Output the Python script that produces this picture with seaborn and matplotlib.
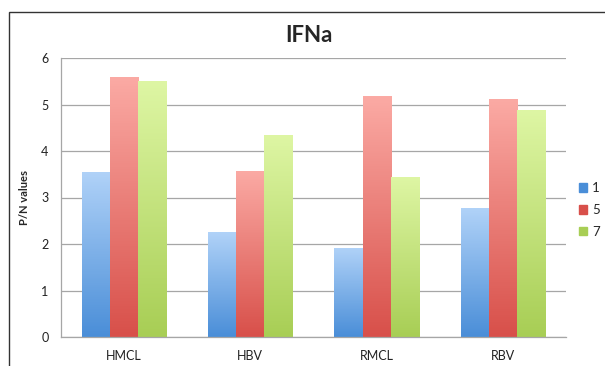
import numpy as np
import pandas as pd
import matplotlib
matplotlib.use("Agg")
import matplotlib.pyplot as plt
import matplotlib.colors as mcolors
from matplotlib.patches import Rectangle
import seaborn as sns

# Data
categories = ["HMCL", "HBV", "RMCL", "RBV"]
series = ["1", "5", "7"]
vals_1 = [3.55, 2.25, 1.92, 2.77]
vals_5 = [5.60, 3.57, 5.18, 5.12]
vals_7 = [5.51, 4.35, 3.45, 4.89]

df = pd.DataFrame({
    "cat": categories * 3,
    "series": [s for s in series for _ in categories],
    "val": vals_1 + vals_5 + vals_7,
})

# (top colour, bottom colour) for the gradient fills
grads = {
    "1": ("#b0d2f8", "#4a8ed8"),
    "5": ("#fbaaa4", "#d8504a"),
    "7": ("#def6a4", "#a8ce55"),
}
solid = {k: v[1] for k, v in grads.items()}

sns.set_style("white")
plt.rcParams["font.family"] = ["Lato", "DejaVu Sans"]

fig = plt.figure(figsize=(6.05, 3.66), dpi=100)
ax = fig.add_axes([61 / 605, 1 - 337 / 366, (566 - 61) / 605, (337 - 58) / 366])

sns.barplot(data=df, x="cat", y="val", hue="series", palette=solid,
            width=0.67, saturation=1, ax=ax, legend=False)

# gradient fill inside each bar
for cont, s in zip(ax.containers, series):
    top, bot = grads[s]
    cmap = mcolors.LinearSegmentedColormap.from_list(s, [bot, top])
    grad = np.linspace(0, 1, 100).reshape(-1, 1)
    for p in cont.patches:
        x0, w, h = p.get_x(), p.get_width(), p.get_height()
        p.set_facecolor("none")
        p.set_edgecolor("none")
        im = ax.imshow(grad, cmap=cmap, origin="lower", aspect="auto",
                       extent=(x0, x0 + w, 0, h), zorder=2)
        clip = Rectangle((x0, 0), w, h, transform=ax.transData)
        im.set_clip_path(clip)

ax.set_xlim(-0.5, 3.5)
ax.set_ylim(0, 6)
ax.set_yticks(range(7))
ax.yaxis.grid(True, color="#a6a6a6", linewidth=0.9)
ax.set_axisbelow(True)

# category-boundary ticks like the original
ax.set_xticks(range(4))
ax.set_xticklabels(categories)
ax.set_xticks([-0.5, 0.5, 1.5, 2.5, 3.5], minor=True)
ax.tick_params(axis="x", which="major", length=0, pad=9, labelsize=9, labelcolor="#222222")
ax.tick_params(axis="x", which="minor", length=5, color="#a6a6a6", width=0.9)
ax.tick_params(axis="y", length=5, color="#a6a6a6", width=0.9, labelsize=9,
               labelcolor="#222222", pad=4)

for sp in ["top", "right"]:
    ax.spines[sp].set_visible(False)
for sp in ["left", "bottom"]:
    ax.spines[sp].set_color("#a6a6a6")
    ax.spines[sp].set_linewidth(0.9)

ax.set_xlabel("")
ax.set_ylabel("P/N values", fontsize=8, fontweight="bold", labelpad=8)

fig.text(309 / 605, 1 - 35 / 366, "IFNa", ha="center", va="center",
         fontsize=16, fontweight="bold")

# legend
handles = [Rectangle((0, 0), 1, 1, color=grads[s][1]) for s in series]
fig.legend(handles, series, loc="center left", bbox_to_anchor=(579 / 605, 1 - 210 / 366),
           frameon=False, fontsize=9.5, handlelength=0.6, handleheight=0.6,
           handletextpad=0.4, labelspacing=0.75, borderpad=0, borderaxespad=0)

# outer chart frame
fig.patches.append(Rectangle((8.5 / 605, -0.05), 1.0, 1 - 11.5 / 366 + 0.05,
                             transform=fig.transFigure, fill=False,
                             edgecolor="#333333", linewidth=1.0))

fig.savefig("out.png", dpi=100)
